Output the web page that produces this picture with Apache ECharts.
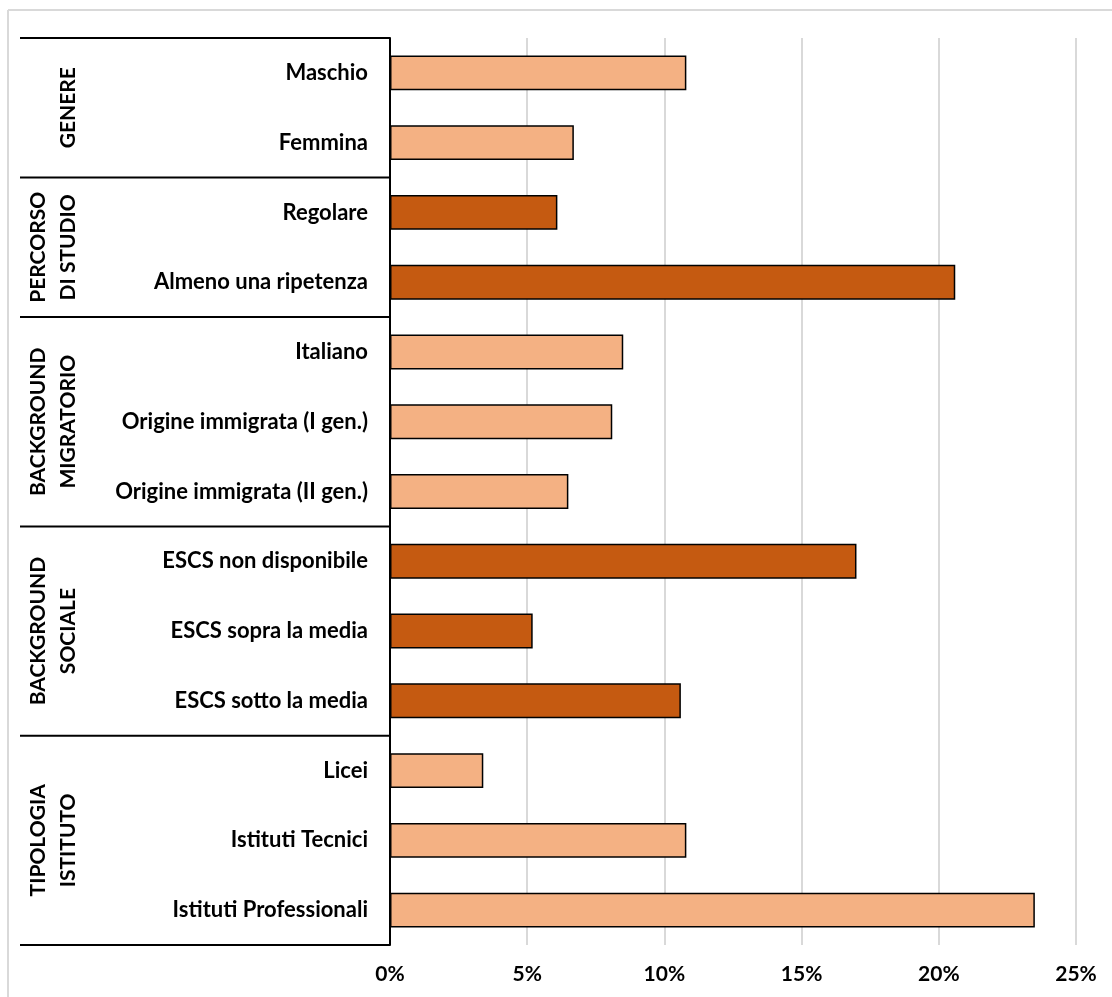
<!DOCTYPE html>
<html>
<head>
<meta charset="UTF-8">
<title></title>
<script src="https://cdn.jsdelivr.net/npm/echarts@6/dist/echarts.min.js"></script>
<style>
	html, body { margin: 0; padding: 0; background: #fff; }
</style>
</head>
<body>
<div id="chart" style="width:1112px;height:997px;"></div>
<script type="text/javascript">
	// dati
	var categorie = ['Maschio', 'Femmina', 'Regolare', 'Almeno una ripetenza', 'Italiano',
		'Origine immigrata (I gen.)', 'Origine immigrata (II gen.)', 'ESCS non disponibile',
		'ESCS sopra la media', 'ESCS sotto la media', 'Licei', 'Istituti Tecnici', 'Istituti Professionali'];
	var valori = [10.8, 6.7, 6.1, 20.6, 8.5, 8.1, 6.5, 17.0, 5.2, 10.6, 3.4, 10.8, 23.5];
	var gruppi = ['GENERE', 'PERCORSO\nDI STUDIO', 'BACKGROUND\nMIGRATORIO', 'BACKGROUND\nSOCIALE', 'TIPOLOGIA\nISTITUTO'];
	var gruppiN = [2, 2, 3, 3, 3];
	var xTicks = [0, 5, 10, 15, 20, 25];

	var chiaro = '#F4B183', scuro = '#C55A11';
	var font = 'Lato';
	var fs = 21;

	var barData = [];
	var k = 0;
	gruppi.forEach(function(g, gi) {
		for (var j = 0; j < gruppiN[gi]; j++) {
			barData.push({
				value: valori[k++],
				itemStyle: { color: gi % 2 === 0 ? chiaro : scuro }
			});
		}
	});

	var myChart = echarts.init(document.getElementById('chart'));
	var option = {
		backgroundColor: '#fff',
		animation: false,
		grid: { left: 390, right: 36, top: 38, bottom: 52, containLabel: false },
		xAxis: {
			type: 'value',
			min: xTicks[0],
			max: xTicks[xTicks.length - 1],
			interval: 5,
			axisLine: { show: false },
			axisTick: { show: false },
			splitLine: { lineStyle: { color: '#d9d9d9', width: 2 } },
			axisLabel: {
				margin: 19,
				color: '#000',
				fontFamily: font,
				fontWeight: 'bold',
				fontSize: fs,
				formatter: '{value}%'
			}
		},
		yAxis: {
			type: 'category',
			inverse: true,
			data: categorie,
			axisLine: { show: true, lineStyle: { color: '#000', width: 2 } },
			axisTick: { show: false },
			axisLabel: {
				margin: 22,
				color: '#000',
				fontFamily: font,
				fontWeight: 'bold',
				fontSize: 22
			}
		},
		series: [{
			type: 'bar',
			data: barData,
			barWidth: '50%',
			itemStyle: { borderColor: '#000', borderWidth: 1.5 }
		}]
	};
	myChart.setOption(option);

	// separatori e etichette dei gruppi
	(function() {
		var p0 = myChart.convertToPixel({ yAxisIndex: 0 }, categorie[0]);
		var p1 = myChart.convertToPixel({ yAxisIndex: 0 }, categorie[1]);
		var band = p1 - p0;
		var y0 = p0 - band / 2;
		var elements = [
			{ type: 'line', shape: { x1: 8, y1: 10, x2: 1112, y2: 10 }, style: { stroke: '#d9d9d9', lineWidth: 2 } },
			{ type: 'line', shape: { x1: 8, y1: 10, x2: 8, y2: 997 }, style: { stroke: '#d9d9d9', lineWidth: 2 } },
			{ type: 'line', shape: { x1: 20, y1: y0, x2: 390, y2: y0 }, style: { stroke: '#000', lineWidth: 2 } }
		];
		var start = 0;
		gruppi.forEach(function(g, gi) {
			var end = start + gruppiN[gi];
			var ya = y0 + start * band, yb = y0 + end * band;
			elements.push({ type: 'line', shape: { x1: 20, y1: yb, x2: 390, y2: yb }, style: { stroke: '#000', lineWidth: 2 } });
			elements.push({
				type: 'text',
				x: 83,
				y: (ya + yb) / 2,
				rotation: Math.PI / 2,
				style: {
					text: g,
					fill: '#000',
					font: 'bold ' + fs + 'px ' + font,
					lineHeight: 30,
					align: 'center',
					verticalAlign: 'bottom'
				}
			});
			start = end;
		});
		myChart.setOption({ graphic: { elements: elements } });
	})();
</script>
</body>
</html>
